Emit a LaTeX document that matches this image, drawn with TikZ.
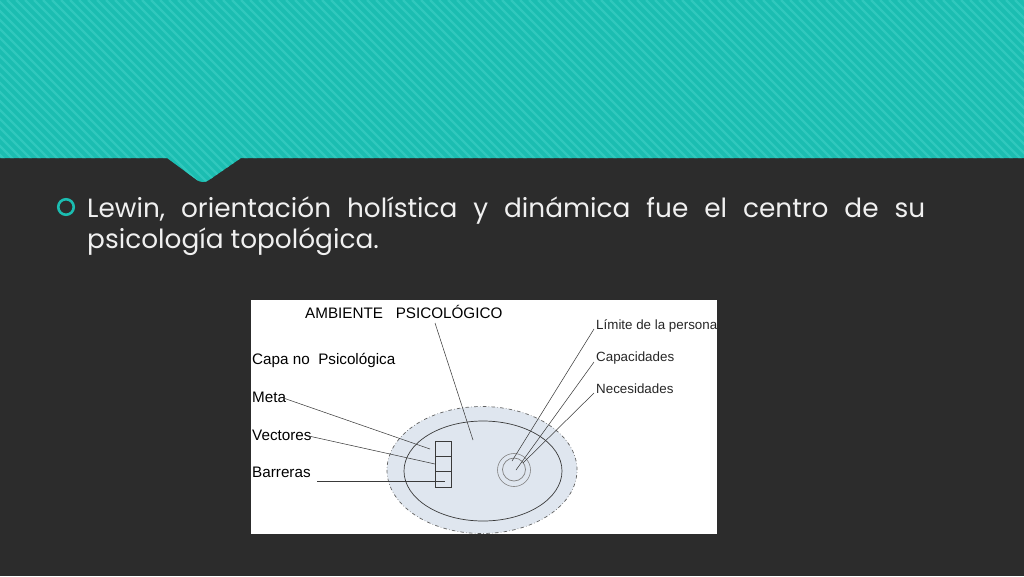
\documentclass[tikz,border=0pt]{standalone}
\usepackage{fontspec}
\setmainfont{Poppins}
\newfontfamily\arialfont{Liberation Sans}
\usepackage{tikz}
\usetikzlibrary{shapes.geometric}

\definecolor{slidebg}{HTML}{2C2C2C}
\definecolor{teal1}{HTML}{1BBDB1}
\definecolor{teal2}{HTML}{30C8BD}
\definecolor{fieldfill}{HTML}{DFE6EF}
\definecolor{inkgray}{HTML}{3A3A3A}

\begin{document}
\begin{tikzpicture}[x=0.03cm, y=-0.03cm,
		label_style/.style={font=\arialfont\fontsize{13}{14}\selectfont, text=black, inner sep=0pt, anchor=west},
		small_label/.style={font=\arialfont\fontsize{11.4}{12}\selectfont, text=black!85, inner sep=0pt, anchor=west},
		leader_style/.style={draw=inkgray, line width=0.45pt},
		stripe_style/.style={draw=teal2, line width=2pt}]

		% slide background
		\fill[slidebg] (0,0) rectangle (1024,576);
		\useasboundingbox (0,0) rectangle (1024,576);

		% striped band with notch
		\begin{scope}
			\clip (0,0) -- (1024,0) -- (1024,158) -- (241,158) -- (209,180)
				to[out=215,in=-35] (197,180) -- (167,158) -- (0,158) -- cycle;
			\fill[teal1] (0,0) rectangle (1024,190);
			\foreach \i in {-200,-191,...,1030}
				\draw[stripe_style] (\i,0) -- ++(200,200);
		\end{scope}

		% bullet and text
		\node[circle, draw=teal1, line width=2.2pt, minimum size=15.5*0.03cm, inner sep=0pt] (bullet) at (66,207) {};
		\node[anchor=base west, inner sep=0pt, text=white!94!black, font=\fontsize{22.5}{28}\selectfont] (line1) at (87,217)
			{\hbox to 838\dimexpr0.03cm\relax{Lewin,\hfill orientación\hfill holística\hfill y\hfill dinámica\hfill fue\hfill el\hfill centro\hfill de\hfill su}};
		\node[anchor=base west, inner sep=0pt, text=white!94!black, font=\fontsize{22.5}{28}\selectfont] (line2) at (87,248)
			{psicología topológica.};

		% picture panel
		\fill[white] (251,300) rectangle (717,534);

		% fields
		\node[ellipse, draw=inkgray!80, fill=fieldfill, dash dot, line width=0.6pt,
			minimum width=190*0.03cm, minimum height=127*0.03cm, inner sep=0pt] (outer) at (482,470) {};
		\node[ellipse, draw=inkgray, line width=0.6pt,
			minimum width=158*0.03cm, minimum height=100*0.03cm, inner sep=0pt] (inner) at (483,471) {};

		% barrier boxes
		\node[draw=inkgray, line width=0.6pt, minimum width=16*0.03cm, minimum height=15.3*0.03cm, inner sep=0pt] (box1) at (443,448.7) {};
		\node[draw=inkgray, line width=0.6pt, minimum width=16*0.03cm, minimum height=15.3*0.03cm, inner sep=0pt] (box2) at (443,464) {};
		\node[draw=inkgray, line width=0.6pt, minimum width=16*0.03cm, minimum height=15.3*0.03cm, inner sep=0pt] (box3) at (443,479.3) {};

		% person
		\node[circle, draw=gray, line width=0.5pt, minimum size=33*0.03cm, inner sep=0pt] (limit) at (514,470) {};
		\node[circle, draw=gray, line width=0.6pt, minimum size=23*0.03cm, inner sep=0pt] (person) at (514,469.5) {};

		% labels
		\node[label_style] (ambient) at (305,312) {AMBIENTE\ \ \ PSICOLÓGICO};
		\node[label_style] (capa) at (252,360) {Capa no\ \ Psicológica};
		\node[label_style] (meta) at (252,397) {Meta};
		\node[label_style] (vect) at (252,435) {Vectores};
		\node[label_style] (barr) at (252,472) {Barreras};
		\node[small_label] (limlab) at (596,326) {Límite de la persona};
		\node[small_label] (caplab) at (596,358) {Capacidades};
		\node[small_label] (neclab) at (596,389) {Necesidades};

		% leader lines
		\coordinate (ambEnd) at (473,440);
		\coordinate (metaEnd) at (430,449);
		\coordinate (vectEnd) at (435,464);
		\coordinate (barrEnd) at (445,481);
		\coordinate (limEnd) at (512,461);
		\coordinate (capEnd) at (516,470);
		\coordinate (necEnd) at (523,463);
		\draw[leader_style] (435,323) -- (ambEnd);
		\draw[leader_style] (meta.east) ++(-3,1) -- (metaEnd);
		\draw[leader_style] (vect.east) ++(-3,1) -- (vectEnd);
		\draw[leader_style] (317,481) -- (barrEnd);
		\draw[leader_style] (limlab.west) ++(-2,3) -- (limEnd);
		\draw[leader_style] (caplab.west) ++(-2,4) -- (capEnd);
		\draw[leader_style] (neclab.west) ++(-2,4) -- (necEnd);

		\end{tikzpicture}
\end{document}
